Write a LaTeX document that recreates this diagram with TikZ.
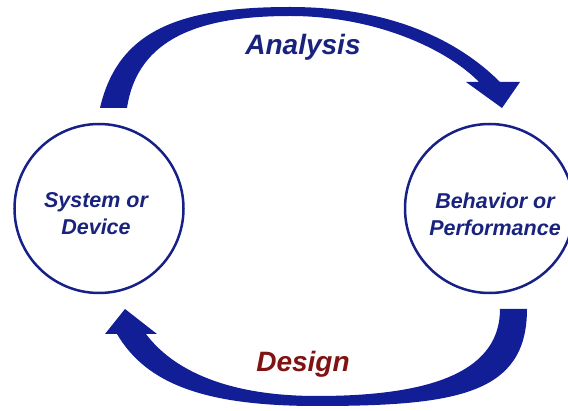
\documentclass[tikz,border=0pt]{standalone}
\usepackage{fontspec}
\setmainfont{Liberation Sans}
\definecolor{arrowblue}{RGB}{18,30,150}
\definecolor{ringblue}{RGB}{22,32,135}
\definecolor{textblue}{RGB}{25,35,125}
\definecolor{designred}{RGB}{128,18,18}

\begin{document}
\begin{tikzpicture}[x=1pt,y=-1pt]
	\tikzset{ring/.style={circle,draw=ringblue,line width=2.5pt,minimum size=169pt,inner sep=0pt},
		boxtext/.style={textblue,align=center,font=\fontsize{21.5}{27}\selectfont\bfseries\itshape},
		cycletext/.style={anchor=base,font=\fontsize{28}{34}\selectfont\bfseries\itshape}}
	\useasboundingbox (0,0) rectangle (568,411);

	% the two ends of the loop
	\node[ring] (sys) at (99,208.5) {};
	\node[ring] (beh) at (489.5,208.5) {};
	\node[boxtext] (systxt) at (96,214) {System or\\Device};
	\node[boxtext] (behtxt) at (495,214.5) {Behavior or\\Performance};

	% upper arrow, left to right
	\fill[arrowblue] (100,108) .. controls (118,30) and (180,7) .. (290,7)
		.. controls (390,7) and (458,40) .. (500,82) -- (520,82) -- (502,108) -- (466,82) -- (479,82)
		.. controls (450,52) and (380,16) .. (290,16)
		.. controls (200,16) and (137.5,38) .. (127,108) -- cycle;
	\node[cycletext,textblue] (ana) at (303,55) {Analysis};

	% lower arrow, right to left
	\fill[arrowblue] (527,309) .. controls (527,394) and (457,406) .. (317,406)
		.. controls (207,406) and (147,385) .. (117,334) -- (105,334) -- (125,309) -- (157,334) -- (146,334)
		.. controls (173,370) and (227,396) .. (317,396)
		.. controls (437,396) and (500,369) .. (500,309) -- cycle;
	\node[cycletext,designred] (des) at (303,372) {Design};
\end{tikzpicture}
\end{document}
